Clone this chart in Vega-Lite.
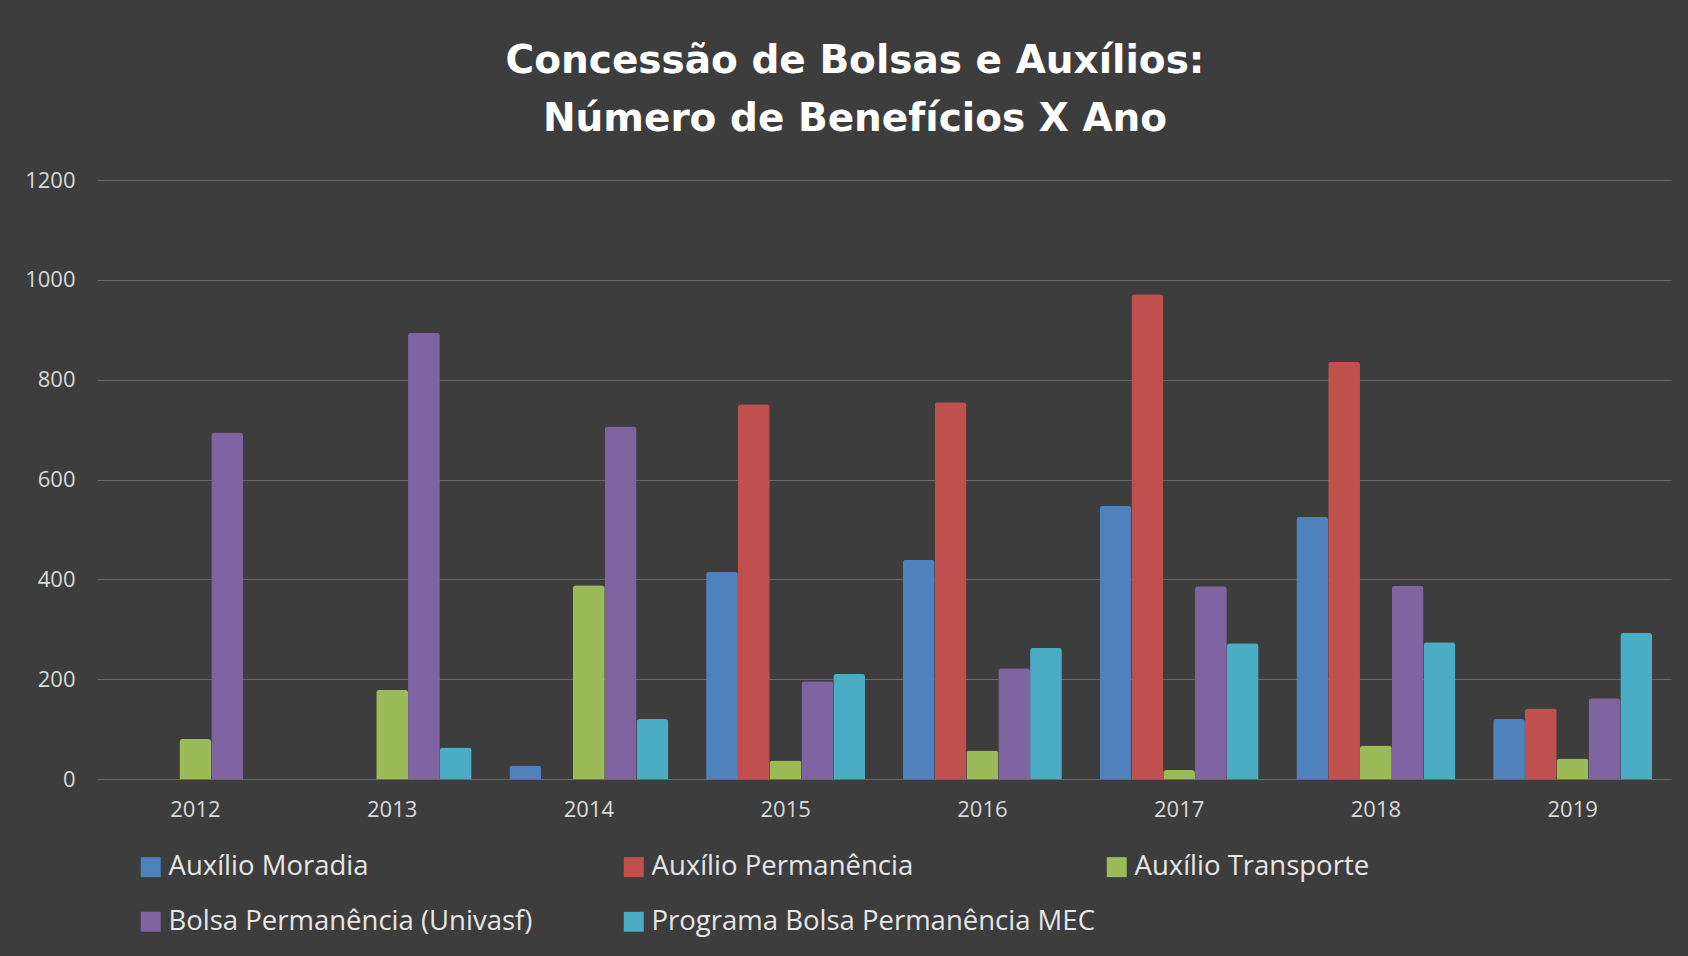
{
  "$schema": "https://vega.github.io/schema/vega-lite/v6.json",
  "width": 1574,
  "height": 599,
  "autosize": {"type": "none"},
  "padding": {"left": 97, "top": 180, "right": 17, "bottom": 177},
  "background": "#3d3d3d",
  "title": {
    "text": ["Concessão de Bolsas e Auxílios:", "Número de Benefícios X Ano"],
    "font": "DejaVu Sans",
    "fontSize": 39,
    "fontWeight": "bold",
    "color": "#ffffff",
    "lineHeight": 58,
    "anchor": "middle",
    "dx": -29,
    "offset": -9,
    "baseline": "bottom"
  },
  "data": {
    "values": [
      {"ano": "2012", "serie": "Auxílio Transporte", "valor": 80},
      {"ano": "2012", "serie": "Bolsa Permanência (Univasf)", "valor": 694},
      {"ano": "2013", "serie": "Auxílio Transporte", "valor": 179},
      {"ano": "2013", "serie": "Bolsa Permanência (Univasf)", "valor": 894},
      {"ano": "2013", "serie": "Programa Bolsa Permanência MEC", "valor": 63},
      {"ano": "2014", "serie": "Auxílio Moradia", "valor": 27},
      {"ano": "2014", "serie": "Auxílio Transporte", "valor": 388},
      {"ano": "2014", "serie": "Bolsa Permanência (Univasf)", "valor": 706},
      {"ano": "2014", "serie": "Programa Bolsa Permanência MEC", "valor": 120},
      {"ano": "2015", "serie": "Auxílio Moradia", "valor": 415},
      {"ano": "2015", "serie": "Auxílio Permanência", "valor": 751},
      {"ano": "2015", "serie": "Auxílio Transporte", "valor": 37},
      {"ano": "2015", "serie": "Bolsa Permanência (Univasf)", "valor": 196},
      {"ano": "2015", "serie": "Programa Bolsa Permanência MEC", "valor": 211},
      {"ano": "2016", "serie": "Auxílio Moradia", "valor": 439},
      {"ano": "2016", "serie": "Auxílio Permanência", "valor": 755},
      {"ano": "2016", "serie": "Auxílio Transporte", "valor": 57},
      {"ano": "2016", "serie": "Bolsa Permanência (Univasf)", "valor": 222},
      {"ano": "2016", "serie": "Programa Bolsa Permanência MEC", "valor": 263},
      {"ano": "2017", "serie": "Auxílio Moradia", "valor": 547},
      {"ano": "2017", "serie": "Auxílio Permanência", "valor": 971},
      {"ano": "2017", "serie": "Auxílio Transporte", "valor": 18},
      {"ano": "2017", "serie": "Bolsa Permanência (Univasf)", "valor": 386},
      {"ano": "2017", "serie": "Programa Bolsa Permanência MEC", "valor": 272},
      {"ano": "2018", "serie": "Auxílio Moradia", "valor": 525},
      {"ano": "2018", "serie": "Auxílio Permanência", "valor": 836},
      {"ano": "2018", "serie": "Auxílio Transporte", "valor": 67},
      {"ano": "2018", "serie": "Bolsa Permanência (Univasf)", "valor": 387},
      {"ano": "2018", "serie": "Programa Bolsa Permanência MEC", "valor": 274},
      {"ano": "2019", "serie": "Auxílio Moradia", "valor": 120},
      {"ano": "2019", "serie": "Auxílio Permanência", "valor": 141},
      {"ano": "2019", "serie": "Auxílio Transporte", "valor": 41},
      {"ano": "2019", "serie": "Bolsa Permanência (Univasf)", "valor": 162},
      {"ano": "2019", "serie": "Programa Bolsa Permanência MEC", "valor": 293}
    ]
  },
  "mark": {
    "type": "bar",
    "cornerRadiusTopLeft": 3,
    "cornerRadiusTopRight": 3
  },
  "encoding": {
    "x": {
      "field": "ano",
      "type": "nominal",
      "scale": {"paddingInner": 0.192, "paddingOuter": 0.096},
      "axis": {
        "title": null,
        "labelAngle": 0,
        "labelFont": "Open Sans",
        "labelFontSize": 22,
        "labelColor": "#d9d9d9",
        "labelPadding": 20,
        "ticks": false,
        "domain": false
      }
    },
    "xOffset": {
      "field": "serie",
      "type": "nominal",
      "sort": ["Auxílio Moradia", "Auxílio Permanência", "Auxílio Transporte", "Bolsa Permanência (Univasf)", "Programa Bolsa Permanência MEC"],
      "scale": {"paddingInner": 0, "paddingOuter": 0}
    },
    "y": {
      "field": "valor",
      "type": "quantitative",
      "scale": {"domain": [0, 1200]},
      "axis": {
        "title": null,
        "values": [0, 200, 400, 600, 800, 1000, 1200],
        "format": "d",
        "labelFont": "Open Sans",
        "labelFontSize": 22,
        "labelColor": "#d9d9d9",
        "labelPadding": 22,
        "ticks": false,
        "domain": false,
        "gridColor": "#6a6a6a",
        "gridWidth": 1
      }
    },
    "color": {
      "field": "serie",
      "type": "nominal",
      "scale": {
        "domain": ["Auxílio Moradia", "Auxílio Permanência", "Auxílio Transporte", "Bolsa Permanência (Univasf)", "Programa Bolsa Permanência MEC"],
        "range": ["#4F81BD", "#C0504D", "#9BBB59", "#8064A2", "#4BACC6"]
      },
      "legend": {
        "title": null,
        "orient": "none",
        "legendX": 40,
        "legendY": 673,
        "direction": "horizontal",
        "columns": 3,
        "gridAlign": "all",
        "symbolType": "square",
        "symbolSize": 400,
        "symbolStrokeWidth": 0,
        "labelFont": "Open Sans",
        "labelFontSize": 27.5,
        "labelColor": "#e6e6e6",
        "labelOffset": 4,
        "labelLimit": 700,
        "columnPadding": 8,
        "rowPadding": 26
      }
    }
  },
  "config": {
    "view": {"stroke": null}
  }
}
